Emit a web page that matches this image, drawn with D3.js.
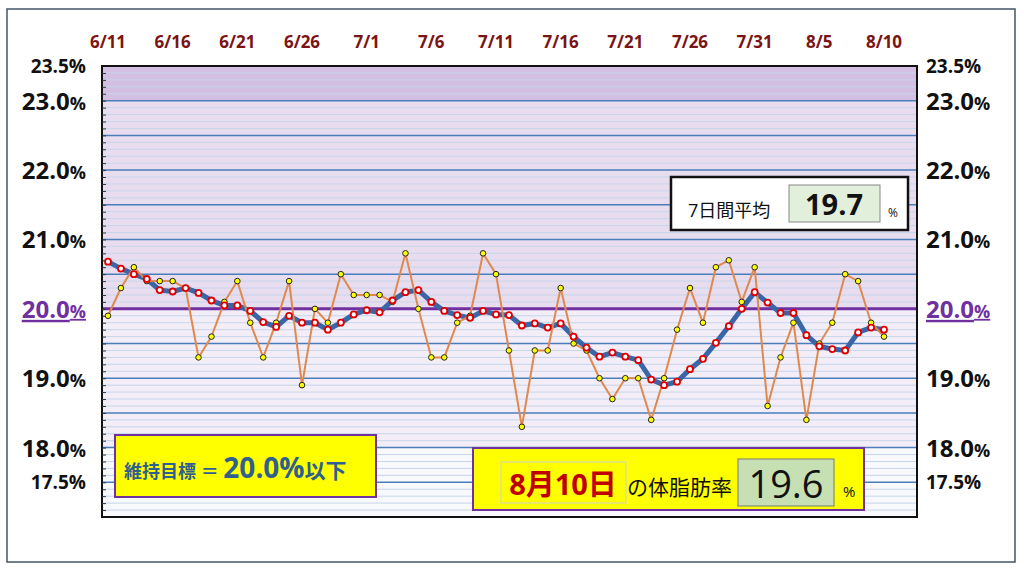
<!DOCTYPE html>
<html><head><meta charset="utf-8">
<script src="https://cdn.jsdelivr.net/npm/d3@7"></script>
<style>body{margin:0;background:#fff}text{font-family:"Open Sans","Noto Sans CJK JP",sans-serif}</style>
</head><body><svg id="c" width="1024" height="570"></svg>
<script>
const startDate = new Date(2021,5,11);
const dailyValues = [19.9,20.3,20.6,20.4,20.4,20.4,20.3,19.3,19.6,20.1,20.4,19.8,19.3,19.8,20.4,18.9,20.0,19.8,20.5,20.2,20.2,20.2,20.1,20.8,20.0,19.3,19.3,19.8,19.9,20.8,20.5,19.4,18.3,19.4,19.4,20.3,19.5,19.4,19.0,18.7,19.0,19.0,18.4,19.0,19.7,20.3,19.8,20.6,20.7,20.1,20.6,18.6,19.3,19.8,18.4,19.5,19.8,20.5,20.4,19.8,19.6];
const avgValues = [20.68,20.58,20.50,20.43,20.27,20.25,20.30,20.23,20.12,20.05,20.05,19.97,19.81,19.74,19.90,19.80,19.80,19.70,19.80,19.92,19.98,19.95,20.12,20.24,20.27,20.10,19.97,19.91,19.87,19.97,19.92,19.91,19.76,19.79,19.73,19.79,19.60,19.44,19.31,19.37,19.31,19.26,18.98,18.90,18.95,19.13,19.28,19.51,19.75,20.00,20.24,20.09,19.94,19.94,19.62,19.46,19.42,19.40,19.66,19.73,19.70];
const yLabels = [23.5,23.0,22.0,21.0,20.0,19.0,18.0,17.5];
const targetValue = 20.0;
const latestAvg = "19.7", latestValue = "19.6", latestDate = "8月10日";

const svg = d3.select("#c");
const X0=102,X1=917,Y0=66,Y1=517;
const x = d3.scaleLinear().domain([0,60]).range([108,884]);
const y = d3.scaleLinear().domain([17.0,23.5]).range([Y1,Y0]);

svg.append("rect").attr("x",7).attr("y",9).attr("width",1008).attr("height",553).attr("fill","#fff").attr("stroke","#44546a").attr("stroke-width",1.5);
const band=(a,b,c)=>svg.append("rect").attr("x",X0).attr("width",X1-X0).attr("y",y(b)).attr("height",y(a)-y(b)).attr("fill",c);
band(17.0,18.0,"#f7f9fc");band(18.0,20.0,"#f3edf7");band(20.0,23.0,"#e8dcef");band(23.0,23.5,"#d3bfe1");
const minors=d3.range(171,235).map(v=>v/10);
const isMajor=d=>Math.abs(d*2-Math.round(d*2))<1e-6;
svg.selectAll(".mg").data(minors).join("line").attr("x1",X0).attr("x2",X1).attr("y1",d=>y(d)).attr("y2",d=>y(d))
 .attr("stroke",d=>isMajor(d)?"#4a7ebb":"#c6d6ec").attr("stroke-width",d=>isMajor(d)?1.5:1);
svg.append("line").attr("x1",X0).attr("x2",X1).attr("y1",y(targetValue)).attr("y2",y(targetValue)).attr("stroke","#7030a0").attr("stroke-width",3);
svg.append("rect").attr("x",X0).attr("y",Y0).attr("width",X1-X0).attr("height",Y1-Y0).attr("fill","none").attr("stroke","#111").attr("stroke-width",2);
svg.append("g").attr("transform",`translate(${X0},0)`).call(d3.axisLeft(y).tickValues(minors).tickSize(-4).tickFormat("")).call(g=>g.select(".domain").remove()).selectAll("line").attr("stroke","#333");
const fmt=d3.timeFormat("%-m/%-d");
svg.selectAll(".dl").data(d3.range(0,61,5)).join("text").attr("x",d=>x(d)).attr("y",48).attr("text-anchor","middle")
 .attr("font-size",17).attr("font-weight","bold").attr("fill","#7b1414").text(d=>fmt(d3.timeDay.offset(startDate,d)));
function ylab(side){
 yLabels.forEach(v=>{
  const small = v===23.5||v===17.5;
  const t=svg.append("text").attr("y",y(v)+(small?7:9)).attr("font-weight","bold")
   .attr("fill",v===targetValue?"#7030a0":"#111").attr("text-decoration",v===targetValue?"underline":null);
  if(side==="l") t.attr("x",86).attr("text-anchor","end"); else t.attr("x",926);
  if(small){t.attr("font-size",19).text(v.toFixed(1)+"%");}
  else{t.append("tspan").attr("font-size",24).text(v.toFixed(1));t.append("tspan").attr("font-size",18).text("%");}
 });
}
ylab("l");ylab("r");
svg.append("path").datum(avgValues).attr("fill","none").attr("stroke","#3a66a8").attr("stroke-width",5)
 .attr("d",d3.line().x((d,i)=>x(i)).y(d=>y(d)));
svg.append("path").datum(dailyValues).attr("fill","none").attr("stroke","#e0894f").attr("stroke-width",2)
 .attr("d",d3.line().x((d,i)=>x(i)).y(d=>y(d)));
svg.selectAll(".dp").data(dailyValues).join("circle").attr("cx",(d,i)=>x(i)).attr("cy",d=>y(d)).attr("r",2.8).attr("fill","#ffff00").attr("stroke","#222").attr("stroke-width",1);
svg.selectAll(".ap").data(avgValues).join("circle").attr("cx",(d,i)=>x(i)).attr("cy",d=>y(d)).attr("r",3).attr("fill","#fff").attr("stroke","#e00000").attr("stroke-width",1.8);
svg.append("rect").attr("x",671).attr("y",177).attr("width",237).attr("height",53).attr("fill","#fff").attr("stroke","#111").attr("stroke-width",2.5);
svg.append("text").attr("x",688).attr("y",217).attr("font-size",18).attr("fill","#111").text("7日間平均");
svg.append("rect").attr("x",789).attr("y",185).attr("width",91).attr("height",37).attr("fill","#e2efda").attr("stroke","#888");
svg.append("text").attr("x",834).attr("y",215).attr("text-anchor","middle").attr("font-size",29).attr("font-weight","bold").attr("font-family","Liberation Sans Narrow,Liberation Sans,sans-serif").attr("fill","#111").text(latestAvg);
svg.append("text").attr("x",888).attr("y",217).attr("font-size",12).attr("fill","#111").text("%");
svg.append("rect").attr("x",115).attr("y",435).attr("width",261).attr("height",62).attr("fill","#ffff00").attr("stroke","#7030a0").attr("stroke-width",2);
const tt=svg.append("text").attr("x",124).attr("y",478).attr("fill","#2f5f8f").attr("font-weight","bold");
tt.append("tspan").attr("font-size",18).text("維持目標 ＝ ");
tt.append("tspan").attr("font-size",28).text(targetValue.toFixed(1)+"%");
tt.append("tspan").attr("font-size",21).text("以下");
svg.append("rect").attr("x",473).attr("y",448).attr("width",391).attr("height",62).attr("fill","#ffff00").attr("stroke","#7030a0").attr("stroke-width",2);
svg.append("rect").attr("x",501).attr("y",462).attr("width",125).attr("height",41).attr("fill","#ffff00").attr("stroke","#d0d0d0");
svg.append("text").attr("x",563).attr("y",495).attr("text-anchor","middle").attr("font-size",29).attr("font-weight","bold").attr("font-family","Liberation Sans Narrow,Noto Sans CJK JP,sans-serif").attr("fill","#c00000").text(latestDate);
svg.append("text").attr("x",627).attr("y",495).attr("font-size",21).attr("fill","#111").text("の体脂肪率");
svg.append("rect").attr("x",738).attr("y",459).attr("width",96).attr("height",47).attr("fill","#c6e0b4").attr("stroke","#777");
svg.append("text").attr("x",786).attr("y",498).attr("text-anchor","middle").attr("font-size",38).attr("font-family","Liberation Sans Narrow,Liberation Sans,sans-serif").attr("fill","#111").text(latestValue);
svg.append("text").attr("x",843).attr("y",497).attr("font-size",15).attr("fill","#111").text("%");
</script></body></html>
